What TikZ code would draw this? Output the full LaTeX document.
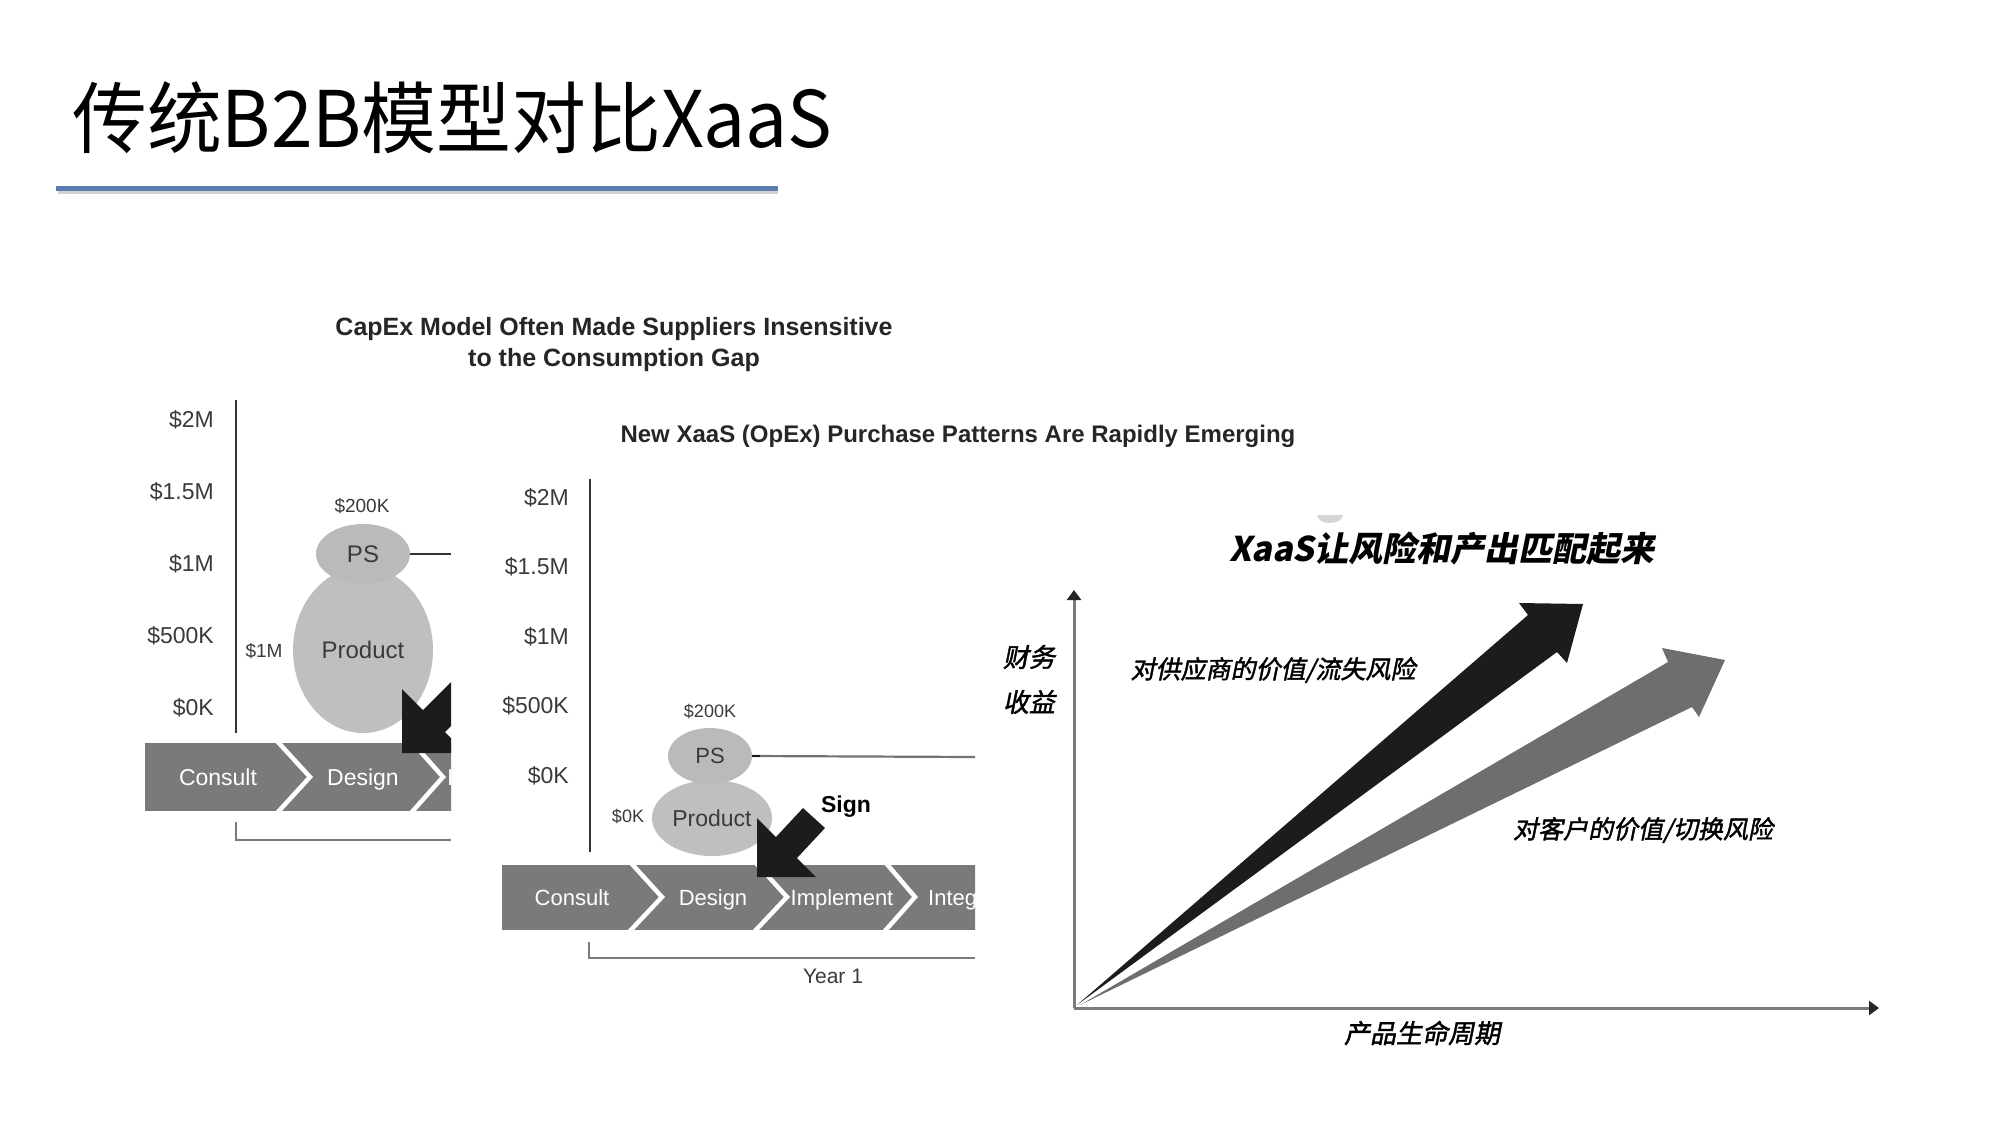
\documentclass[tikz,border=0pt]{standalone}
\usepackage{fontspec}
\setmainfont{Liberation Sans}
\newfontfamily\cjk{Noto Sans CJK SC}
\newfontfamily\cjkit[FakeSlant=0.2]{Noto Sans CJK SC}
\newfontfamily\cjkitb[FakeSlant=0.2,FakeBold=1.6]{Noto Sans CJK SC}
\usetikzlibrary{shapes.geometric,arrows.meta}
\newcommand{\pxsize}[1]{\fontsize{#1}{#1}\selectfont}

\definecolor{titleblue}{HTML}{5B7DB0}
\definecolor{bandgray}{HTML}{7A7A7A}
\definecolor{ellgray}{HTML}{BFBFC0}
\definecolor{psgray}{HTML}{BABABA}
\definecolor{labelgray}{HTML}{3A3A3A}
\definecolor{axisgray}{HTML}{7A7A7A}
\definecolor{arrowgray}{HTML}{6E6E6E}
\definecolor{arrowblack}{HTML}{1C1C1C}

\tikzset{
  ylab/.style={anchor=east, text=labelgray, font=\pxsize{23}, inner sep=0pt},
  smalllab/.style={text=labelgray, font=\pxsize{18}, inner sep=0pt},
  bandtxt/.style={anchor=base, text=white, font=\pxsize{23}, inner sep=0pt},
  chev/.style={white, line width=4.5pt},
  blob/.style={ellipse, inner sep=0pt, text=labelgray},
  bracketline/.style={axisgray, line width=2pt},
  charttitle/.style={font=\bfseries\pxsize{25}, text=black!85, align=center, inner sep=0pt},
  cjklab/.style={font=\cjkitb\pxsize{25}, text=black, inner sep=0pt},
}

\begin{document}
\begin{tikzpicture}[x=1pt,y=-1pt]
\useasboundingbox (0,0) rectangle (1997,1125);
\fill[white] (0,0) rectangle (1997,1125);

% ---------- page heading ----------
\node[anchor=base west, font=\cjk\pxsize{78}, inner sep=0pt] (heading) at (72,147) {\scalebox{0.96}[1]{传统B2B模型对比XaaS}};
\draw[black!18, line width=4pt] (58,192) -- (778,192);
\draw[titleblue, line width=5pt] (56,188) -- (778,188);

% ---------- CapEx chart (cropped on the right) ----------
\node[charttitle] (capexttl) at (614,345) {CapEx Model Often Made Suppliers Insensitive\\[6pt]to the Consumption Gap};

\draw[black!80, line width=1.3pt] (236,400) -- (236,733);
\node[ylab] (a2m)   at (214,420) {\$2M};
\node[ylab] (a15m)  at (214,492) {\$1.5M};
\node[ylab] (a1m)   at (214,564) {\$1M};
\node[ylab] (a500k) at (214,636) {\$500K};
\node[ylab] (a0k)   at (214,708) {\$0K};

\begin{scope}
\clip (0,0) rectangle (451,1125);
\node[blob, fill=ellgray, minimum width=140pt, minimum height=166pt, font=\pxsize{24}] (prod1) at (363,650) {Product};
\node[blob, fill=psgray, minimum width=94pt, minimum height=60pt, font=\pxsize{24}] (ps1) at (363,554) {PS};
\coordinate (ps1end) at (451,554);
\draw[black!80, line width=1.5pt] (ps1.east) -- (ps1end);

\fill[bandgray] (145,743) rectangle (460,811);
\draw[chev] (277,741) -- (310,777) -- (277,813);
\draw[chev] (411,741) -- (443,777) -- (411,813);
\node[bandtxt] (consult1) at (218,785) {Consult};
\node[bandtxt] (design1)  at (363,785) {Design};
\node[bandtxt, anchor=base west] (impl1) at (447,785) {I};

\fill[arrowblack] (402,753) -- (402,689) -- (423,710) -- (473,660)
   -- (495,682) -- (445,732) -- (466,753) -- cycle;

\coordinate (br1end) at (451,840);
\draw[bracketline] (236,822) -- (236,840) -- (br1end);
\end{scope}
\node[smalllab, font=\pxsize{19}] (k200a) at (362,506) {\$200K};
\node[smalllab, font=\pxsize{19}] (m1a)   at (264,651) {\$1M};

% ---------- OpEx chart (cropped on the right) ----------
\node[charttitle, font=\bfseries\pxsize{24}] (opexttl) at (958,436) {New XaaS (OpEx) Purchase Patterns Are Rapidly Emerging};

\draw[black!80, line width=1.3pt] (590,479) -- (590,852);
\node[ylab] (b2m)   at (569,498) {\$2M};
\node[ylab] (b15m)  at (569,567) {\$1.5M};
\node[ylab] (b1m)   at (569,637) {\$1M};
\node[ylab] (b500k) at (569,706) {\$500K};
\node[ylab] (b0k)   at (569,776) {\$0K};

\node[smalllab] (k200b) at (710,711) {\$200K};
\node[smalllab] (k0b)   at (628,816) {\$0K};
\node[blob, fill=ellgray, minimum width=120pt, minimum height=76pt, font=\pxsize{23}] (prod2) at (712,818) {Product};
\node[blob, fill=psgray, minimum width=84pt, minimum height=56pt, font=\pxsize{22}] (ps2) at (710,756) {PS};
\coordinate (ps2end) at (975,757);
\draw[black!55, line width=2.2pt] (ps2.east) -- (ps2end);
\draw[black!90, line width=2.2pt] (ps2.east) -- ++(8,0);

\begin{scope}
\clip (0,0) rectangle (975,1125);
\fill[bandgray] (502,865) rectangle (980,930);
\draw[chev] (631,863) -- (662,897) -- (629,932);
\draw[chev] (756,863) -- (787,897) -- (754,932);
\draw[chev] (886,863) -- (915,897) -- (884,932);
\node[bandtxt, font=\pxsize{22}] (consult2) at (572,905) {Consult};
\node[bandtxt, font=\pxsize{22}] (design2)  at (713,905) {Design};
\node[bandtxt, font=\pxsize{22}] (impl2)    at (842,905) {Implement};
\node[bandtxt, font=\pxsize{22}, anchor=base west] (integ2) at (928,905) {Integ};
\end{scope}

\fill[arrowblack] (757,877) -- (757,818) -- (776,837) -- (803,808)
   -- (825,828) -- (797,858) -- (816,877) -- cycle;
\node[font=\bfseries\pxsize{23}, inner sep=0pt] (sign) at (846,807) {Sign};

\coordinate (br2end) at (975,958);
\draw[bracketline] (589,942) -- (589,958) -- (br2end);
\node[text=labelgray, font=\pxsize{21}, inner sep=0pt] (year1) at (833,976) {Year 1};

% ---------- XaaS risk / return chart ----------
\fill[black!16] (1317,515) arc[start angle=180, end angle=0, x radius=13, y radius=8] -- cycle;

\node[font=\cjkit\bfseries\pxsize{34}, inner sep=0pt] (xaasttl) at (1442,549) {XaaS让风险和产出匹配起来};

\coordinate (origin) at (1074,1008);
\coordinate (ytip) at (1074,590);
\coordinate (xtip) at (1879,1008);
\draw[axisgray, line width=3pt, -{Triangle[length=10pt,width=14pt,color=black!85]}] (origin) -- (ytip);
\draw[axisgray, line width=3pt, -{Triangle[length=10pt,width=14pt,color=black!85]}] (origin) -- (xtip);

% gray arrow: value / switching risk for the customer
\fill[arrowgray] (1080,1005) -- (1692,707) -- (1699,717) -- (1725,660)
   -- (1662,648) -- (1668,662) -- cycle;
% black arrow: value / churn risk for the supplier
\fill[arrowblack] (1077,1005) -- (1557,652) -- (1567,663) -- (1583,604)
   -- (1519,603) -- (1528,615) -- cycle;

\node[cjklab] (supplier) at (1273,670) {对供应商的价值/流失风险};
\node[cjklab] (customer) at (1643,830) {对客户的价值/切换风险};
\node[cjklab, font=\cjkitb\pxsize{26}] (yl1) at (1029,657) {财务};
\node[cjklab, font=\cjkitb\pxsize{26}] (yl2) at (1029,702) {收益};
\node[cjklab, font=\cjkitb\pxsize{26}] (xl) at (1422,1033) {产品生命周期};
\end{tikzpicture}
\end{document}
